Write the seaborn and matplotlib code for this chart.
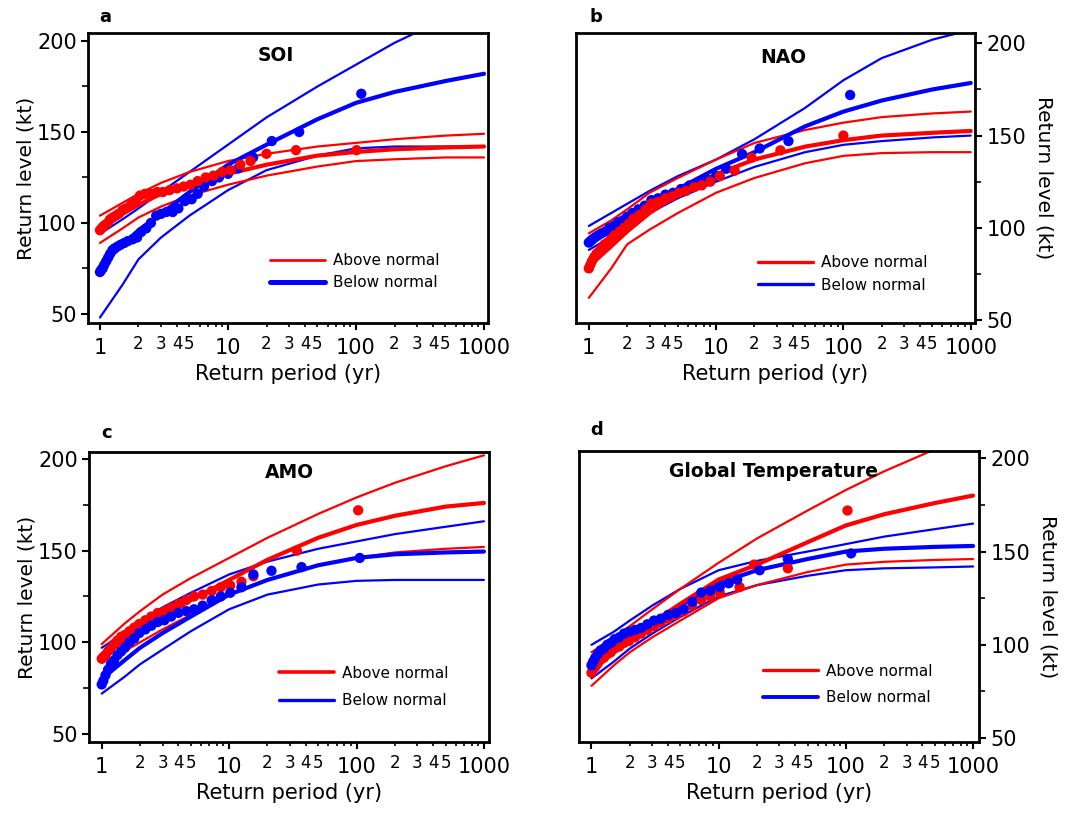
import matplotlib
matplotlib.use("Agg")
import matplotlib.pyplot as plt
import seaborn as sns
from matplotlib.ticker import FixedLocator, FixedFormatter

RED = "#ff0000"
BLUE = "#0000ff"

# ---------------- data ----------------
T_CURVE = [1, 1.5, 2, 3, 5, 10, 20, 50, 100, 200, 500, 1000]

# (a) SOI
soi_red_upper = [104, 111, 116, 122, 128, 134, 138, 142, 144, 146, 148, 149]
soi_red_fit = [97, 105, 110, 116, 121, 127, 132, 137, 139, 140.5, 141.5, 142]
soi_red_lower = [89, 97, 103, 109, 115, 121, 126, 131, 134, 135, 136, 136]
soi_blue_upper_T = [1, 1.5, 2, 3, 5, 10, 20, 50, 100, 200, 290]
soi_blue_upper = [94, 102, 108, 117, 128, 143, 158, 175, 187, 199, 204.4]
soi_blue_fit = [76, 88, 96, 105, 117, 132, 143, 157, 166, 172, 178, 182]
soi_blue_lower = [48, 66, 80, 92, 104, 118, 129, 137, 141, 142, 142, 142]
soi_red_pts_T = [1.0, 1.03, 1.06, 1.1, 1.15, 1.2, 1.26, 1.33, 1.4, 1.5, 1.6, 1.75, 1.9, 2.05,
                 2.25, 2.5, 2.8, 3.1, 3.5, 4.0, 4.5, 5.1, 5.8, 6.7, 7.7, 9.0, 10.5, 12.5, 15, 20, 34, 101]
soi_red_pts = [96, 97, 98, 99, 100, 102, 103, 104, 105, 107, 108, 110, 112, 115,
               116, 116, 117, 117, 118, 119, 120, 121, 123, 125, 126, 128, 129, 132, 134, 138, 140, 140]
soi_blue_pts_T = [1.0, 1.02, 1.05, 1.08, 1.12, 1.16, 1.2, 1.25, 1.3, 1.37, 1.45, 1.55, 1.65, 1.8,
                  1.95, 2.1, 2.3, 2.5, 2.75, 3.0, 3.3, 3.7, 4.1, 4.6, 5.2, 5.8, 6.5, 7.5, 8.5, 10,
                  12, 15.7, 22, 36, 110]
soi_blue_pts = [73, 74, 75, 77, 79, 81, 83, 85, 86, 87, 88, 89, 90, 91,
                92, 95, 97, 100, 104, 105, 106, 106, 108, 112, 113, 116, 120, 123, 125, 127,
                130, 136, 145, 150, 171]

# (b) NAO
nao_red_upper = [97, 104, 110, 119, 127, 137, 146, 153, 157, 160, 162, 163]
nao_red_fit = [79, 90, 98, 108, 118, 129, 137, 144, 147.5, 150, 151.5, 152.5]
nao_red_lower = [62, 78, 91, 99, 108, 119, 127, 135, 139, 140.5, 141, 141]
nao_blue_upper_T = [1, 1.5, 2, 3, 5, 10, 20, 50, 100, 200, 500, 800]
nao_blue_upper = [101, 108, 113, 120, 128, 137, 148, 165, 180, 192, 202, 205.6]
nao_blue_fit = [94, 101, 106, 113, 121, 132, 141, 155, 163, 169, 175, 178.5]
nao_blue_lower = [88, 95, 101, 108, 116, 125, 133, 141, 145, 147, 149, 150]
nao_red_pts_T = [1.0, 1.03, 1.06, 1.1, 1.15, 1.2, 1.26, 1.33, 1.4, 1.5, 1.6, 1.75, 1.9, 2.05,
                 2.25, 2.5, 2.8, 3.1, 3.5, 4.0, 4.5, 5.1, 5.8, 6.7, 7.7, 9.0, 10.7, 14, 19, 32, 100]
nao_red_pts = [78, 80, 82, 84, 86, 87, 89, 91, 92, 94, 96, 98, 100, 102,
               105, 107, 110, 113, 114, 116, 117, 119, 120, 122, 123, 125, 128, 131, 138, 142, 150]
nao_blue_pts_T = [1.0, 1.04, 1.08, 1.13, 1.19, 1.26, 1.35, 1.45, 1.57, 1.7, 1.85, 2.0, 2.2, 2.45,
                  2.75, 3.1, 3.5, 4.0, 4.6, 5.3, 6.2, 7.3, 8.6, 10, 12, 16, 22, 37, 113]
nao_blue_pts = [92, 93, 94, 95, 96, 97, 98, 100, 101, 103, 104, 106, 108, 110,
                112, 115, 116, 118, 119, 121, 123, 125, 126, 128, 132, 140, 143, 147, 172]

# (c) AMO
amo_red_upper = [99, 110, 117, 126, 135, 146, 157, 170, 179, 187, 196, 202]
amo_red_fit = [92, 101, 106, 114, 123, 134, 145, 157, 164, 169, 174, 176]
amo_red_lower = [89, 95, 100, 107, 115, 126, 134, 142, 146, 149, 151, 152]
amo_blue_upper = [97, 105, 111, 119, 127, 137, 144, 151, 155, 159, 163, 166]
amo_blue_fit = [80, 90, 97, 105, 114, 126, 134, 142, 146, 148, 149, 149.5]
amo_blue_lower = [72, 81, 88, 96, 106, 118, 126, 131.5, 133.5, 134, 134, 134]
amo_red_pts_T = [1.0, 1.03, 1.07, 1.12, 1.18, 1.25, 1.33, 1.42, 1.52, 1.65, 1.8, 1.97, 2.2, 2.45,
                 2.75, 3.1, 3.5, 4.0, 4.6, 5.3, 6.2, 7.3, 8.6, 10.2, 12.5, 15.5, 34, 103]
amo_red_pts = [91, 92, 93, 95, 97, 99, 101, 103, 104, 106, 108, 110, 112, 114,
               116, 117, 119, 121, 123, 125, 126, 128, 130, 131, 133, 136, 150, 172]
amo_blue_pts_T = [1.0, 1.03, 1.07, 1.12, 1.18, 1.25, 1.33, 1.42, 1.52, 1.65, 1.8, 1.97, 2.2, 2.45,
                  2.75, 3.1, 3.5, 4.0, 4.6, 5.3, 6.2, 7.3, 8.6, 10.2, 12.5, 15.5, 21.5, 37, 106]
amo_blue_pts = [77, 79, 82, 85, 88, 90, 93, 95, 97, 100, 102, 105, 107, 109,
                111, 112, 114, 116, 117, 118, 120, 123, 125, 127, 130, 137, 139, 141, 146]

# (d) Global Temperature
gt_red_upper_T = [1, 1.5, 2, 3, 5, 10, 20, 50, 100, 200, 470]
gt_red_upper = [96, 104, 110, 119, 130, 144, 157, 172, 183, 193, 204]
gt_red_fit = [86, 96, 103, 112, 122, 135, 143, 155, 164, 170, 176, 180]
gt_red_lower = [78, 89, 96, 104, 113, 125, 132, 139, 143, 144.5, 145.5, 146]
gt_blue_upper = [100, 107, 113, 121, 130, 140, 145, 150, 154, 158, 162, 165]
gt_blue_fit = [90, 98, 104, 112, 121, 133, 140, 146, 150, 151.5, 152.5, 153]
gt_blue_lower = [82, 91, 98, 106, 115, 126, 132, 137, 140, 141, 141.5, 142]
gt_red_pts_T = [1.0, 1.03, 1.07, 1.12, 1.18, 1.25, 1.33, 1.42, 1.52, 1.65, 1.8, 1.97, 2.2, 2.45,
                2.75, 3.1, 3.5, 4.0, 4.6, 5.3, 6.2, 7.3, 8.6, 10.2, 12, 14.6, 19, 35, 103]
gt_red_pts = [85, 87, 88, 90, 92, 93, 95, 96, 98, 99, 101, 102, 104, 106,
              108, 110, 112, 114, 116, 118, 121, 124, 126, 128, 135, 131, 143, 141, 172]
gt_blue_pts_T = [1.0, 1.03, 1.07, 1.12, 1.18, 1.25, 1.33, 1.42, 1.52, 1.65, 1.8, 1.97, 2.2, 2.45,
                 2.75, 3.1, 3.5, 4.0, 4.6, 5.3, 6.2, 7.3, 8.6, 10.2, 12, 14, 21, 35, 110]
gt_blue_pts = [89, 91, 93, 95, 97, 98, 100, 101, 103, 104, 106, 107, 108, 109,
               111, 113, 114, 116, 117, 119, 123, 128, 129, 131, 133, 135, 140, 146, 149]

X_MAJOR = [1, 10, 100, 1000]
X_MAJOR_LABELS = ["1", "10", "100", "1000"]
X_MINOR_MULT = [2, 3, 4, 5, 6, 7, 8, 9]
X_MINOR_LABELED = [2, 3, 4, 5]
Y_MAJOR = [50, 100, 150, 200]
Y_MINOR = [75, 125, 175]
LEGEND_LABELS = ["Above normal", "Below normal"]

# ---------------- figure ----------------
sns.set_style("ticks")
plt.rcParams["font.family"] = ["DejaVu Sans"]
plt.rcParams["text.color"] = "black"
plt.rcParams["axes.labelcolor"] = "black"
plt.rcParams["xtick.color"] = "black"
plt.rcParams["ytick.color"] = "black"

fig = plt.figure(figsize=(10.65, 8.15), dpi=100)

panels = [
    dict(letter="a", title="SOI", pos=[0.0826, 0.6037, 0.3756, 0.3558], right=False,
         xlim=(0.806, 1074), ylim=(45, 204.4), title_xy=(0.47, 0.924), letter_xy=(0.0986, 0.979),
         leg=(0.455, 0.177, 0.45), leg_lw=(2.0, 3.6), points_red_on_top=True,
         red=(T_CURVE, soi_red_upper, T_CURVE, soi_red_fit, T_CURVE, soi_red_lower, soi_red_pts_T, soi_red_pts),
         blue=(soi_blue_upper_T, soi_blue_upper, T_CURVE, soi_blue_fit, T_CURVE, soi_blue_lower, soi_blue_pts_T, soi_blue_pts)),
    dict(letter="b", title="NAO", pos=[0.5405, 0.6037, 0.3753, 0.3558], right=True,
         xlim=(0.788, 1087), ylim=(48.4, 205.6), title_xy=(0.52, 0.917), letter_xy=(0.560, 0.979),
         leg=(0.456, 0.169, 0.5), leg_lw=(2.4, 2.4), points_red_on_top=True,
         red=(T_CURVE, nao_red_upper, T_CURVE, nao_red_fit, T_CURVE, nao_red_lower, nao_red_pts_T, nao_red_pts),
         blue=(nao_blue_upper_T, nao_blue_upper, T_CURVE, nao_blue_fit, T_CURVE, nao_blue_lower, nao_blue_pts_T, nao_blue_pts)),
    dict(letter="c", title="AMO", pos=[0.0836, 0.0896, 0.3756, 0.3558], right=False,
         xlim=(0.795, 1097), ylim=(45.6, 203.8), title_xy=(0.5, 0.928), letter_xy=(0.1005, 0.469),
         leg=(0.475, 0.19, 0.8), leg_lw=(2.6, 2.4), points_red_on_top=False,
         red=(T_CURVE, amo_red_upper, T_CURVE, amo_red_fit, T_CURVE, amo_red_lower, amo_red_pts_T, amo_red_pts),
         blue=(T_CURVE, amo_blue_upper, T_CURVE, amo_blue_fit, T_CURVE, amo_blue_lower, amo_blue_pts_T, amo_blue_pts)),
    dict(letter="d", title="Global Temperature", pos=[0.5438, 0.0896, 0.3756, 0.357], right=True,
         xlim=(0.80, 1117), ylim=(47.9, 203.9), title_xy=(0.487, 0.93), letter_xy=(0.560, 0.472),
         leg=(0.46, 0.198, 0.75), leg_lw=(2.4, 2.8), points_red_on_top=False,
         red=(gt_red_upper_T, gt_red_upper, T_CURVE, gt_red_fit, T_CURVE, gt_red_lower, gt_red_pts_T, gt_red_pts),
         blue=(T_CURVE, gt_blue_upper, T_CURVE, gt_blue_fit, T_CURVE, gt_blue_lower, gt_blue_pts_T, gt_blue_pts)),
]

for p in panels:
    ax = fig.add_axes(p["pos"])
    ax.set_xscale("log")
    handles = {}
    for key, color in (("blue", BLUE), ("red", RED)):
        Tu, vu, Tf, vf, Tl, vl, _, _ = p[key]
        sns.lineplot(x=Tu, y=vu, ax=ax, color=color, linewidth=1.6, estimator=None, sort=False, zorder=2)
        sns.lineplot(x=Tl, y=vl, ax=ax, color=color, linewidth=1.6, estimator=None, sort=False, zorder=2)
        sns.lineplot(x=Tf, y=vf, ax=ax, color=color, linewidth=3.0, estimator=None, sort=False, zorder=3)
        handles[key] = ax.get_lines()[-1]
    order = ("blue", "red") if p["points_red_on_top"] else ("red", "blue")
    for i, key in enumerate(order):
        color = RED if key == "red" else BLUE
        Tp, vp = p[key][6], p[key][7]
        sns.scatterplot(x=Tp, y=vp, ax=ax, color=color, s=55, edgecolor="none", linewidth=0,
                        zorder=4 + i, legend=False)

    ax.set_xlim(*p["xlim"])
    ax.set_ylim(*p["ylim"])

    for sp in ax.spines.values():
        sp.set_visible(True)
        sp.set_linewidth(2.0)
        sp.set_color("black")

    ax.xaxis.set_major_locator(FixedLocator(X_MAJOR))
    ax.xaxis.set_major_formatter(FixedFormatter(X_MAJOR_LABELS))
    minor_pos, minor_lab = [], []
    for dec in (1, 10, 100):
        for m in X_MINOR_MULT:
            minor_pos.append(m * dec)
            minor_lab.append(str(m) if m in X_MINOR_LABELED else "")
    ax.xaxis.set_minor_locator(FixedLocator(minor_pos))
    ax.xaxis.set_minor_formatter(FixedFormatter(minor_lab))
    ax.tick_params(axis="x", which="major", direction="out", length=5, width=1.5,
                   labelsize=15, pad=6, colors="black")
    ax.tick_params(axis="x", which="minor", direction="out", length=3, width=1.2,
                   labelsize=12, pad=6, colors="black")

    ax.yaxis.set_major_locator(FixedLocator(Y_MAJOR))
    ax.yaxis.set_minor_locator(FixedLocator(Y_MINOR))
    ax.tick_params(axis="y", which="major", direction="out", length=5, width=1.5,
                   labelsize=15, pad=3, colors="black")
    ax.tick_params(axis="y", which="minor", direction="out", length=4, width=1.2)

    ax.set_xlabel("Return period (yr)", fontsize=15, labelpad=4)
    if p["right"]:
        ax.yaxis.tick_right()
        ax.yaxis.set_label_position("right")
        ax.set_ylabel("Return level (kt)", fontsize=14.5, rotation=270, va="bottom", labelpad=6)
    else:
        ax.set_ylabel("Return level (kt)", fontsize=14.5, labelpad=1)

    ax.text(p["title_xy"][0], p["title_xy"][1], p["title"], transform=ax.transAxes,
            ha="center", va="center", fontsize=13.5, fontweight="bold")
    fig.text(p["letter_xy"][0], p["letter_xy"][1], p["letter"], ha="center", va="center",
             fontsize=13, fontweight="bold")

    lx, ly, lsp = p["leg"]
    leg = ax.legend([handles["red"], handles["blue"]], LEGEND_LABELS, loc="center left",
                    bbox_to_anchor=(lx, ly), frameon=False, fontsize=11, handlelength=3.6,
                    handletextpad=0.5, labelspacing=lsp, borderpad=0, borderaxespad=0)
    for line, lw in zip(leg.get_lines(), p["leg_lw"]):
        line.set_linewidth(lw)

fig.savefig("out.png", dpi=100)
